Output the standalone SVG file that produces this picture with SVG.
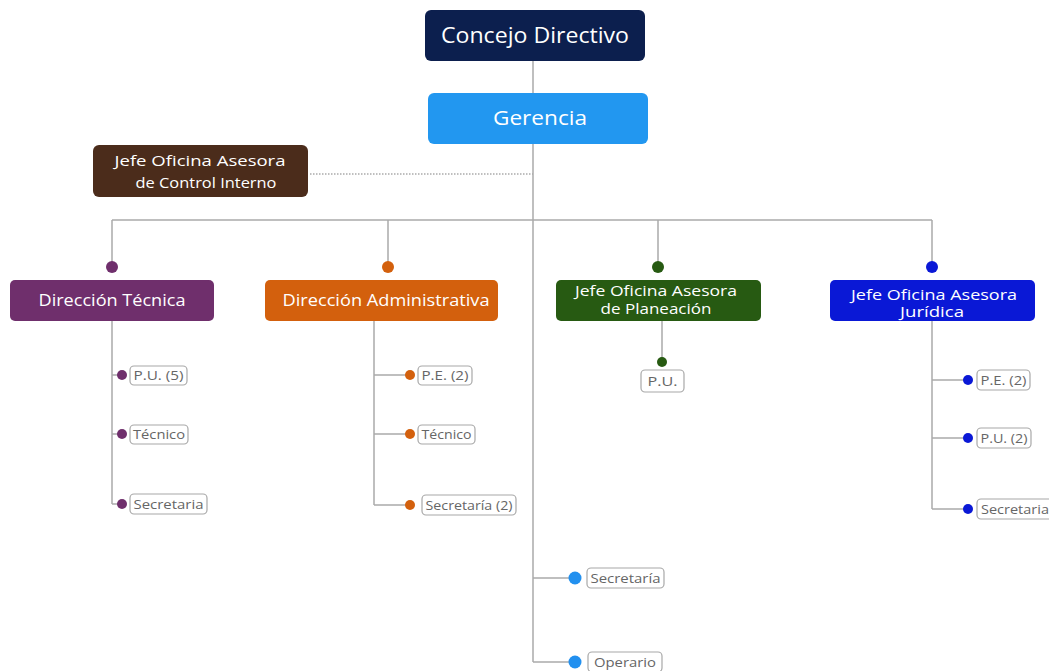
<svg xmlns="http://www.w3.org/2000/svg" width="1049" height="671" viewBox="0 0 1049 671">
<style>
text{font-family:"Open Sans","Liberation Sans",sans-serif;}
.t{fill:#fff;text-anchor:middle;}
.l{fill:#666;font-size:13px;text-anchor:middle;}
.lb{fill:#fff;stroke:#a8a8a8;stroke-width:1.2;}
.c{fill:none;stroke:#aaa;stroke-width:1.5;}
</style>
<rect width="1049" height="671" fill="#fff"/>
<g id="connectors">
<path class="c" d="M533 61V93M533 144V662M112 220H932M112 220V262M388 220V262M658 220V262M932 220V262"/>
<path d="M310 174H533" fill="none" stroke="#aaa" stroke-width="1.5" stroke-dasharray="1.5 1.5"/>
<path class="c" d="M112 321V504M112 375H122M112 434H122M112 504H122"/>
<path class="c" d="M374 321V505M374 375H410M374 434H410M374 505H410"/>
<path class="c" d="M662 321V362"/>
<path class="c" d="M932 321V509M932 380H968M932 438H968M932 509H968"/>
<path class="c" d="M533 578H575M533 662H575"/>
<circle cx="112" cy="267" r="6" fill="#6f2f6c"/>
<circle cx="388" cy="267" r="6" fill="#d3600d"/>
<circle cx="658" cy="267" r="6" fill="#275a12"/>
<circle cx="932" cy="267" r="6" fill="#0a18d6"/>
<circle cx="122" cy="375" r="5" fill="#6f2f6c"/>
<circle cx="122" cy="434" r="5" fill="#6f2f6c"/>
<circle cx="122" cy="504" r="5" fill="#6f2f6c"/>
<circle cx="410" cy="375" r="5" fill="#d3600d"/>
<circle cx="410" cy="434" r="5" fill="#d3600d"/>
<circle cx="410" cy="505" r="5" fill="#d3600d"/>
<circle cx="662" cy="362" r="5" fill="#275a12"/>
<circle cx="968" cy="380" r="5" fill="#0a18d6"/>
<circle cx="968" cy="438" r="5" fill="#0a18d6"/>
<circle cx="968" cy="509" r="5" fill="#0a18d6"/>
<circle cx="575" cy="578" r="6.5" fill="#2290ef"/>
<circle cx="575" cy="662" r="6.5" fill="#2290ef"/>
</g>
<g id="concejo"><rect x="425" y="10" width="220" height="51" rx="6" fill="#0c1f4e"/><text class="t" x="535" y="43" font-size="22" textLength="188" lengthAdjust="spacingAndGlyphs">Concejo Directivo</text></g>
<g id="gerencia"><rect x="428" y="93" width="220" height="51" rx="6" fill="#2297f0"/><text class="t" x="540" y="125" font-size="20" textLength="94" lengthAdjust="spacingAndGlyphs">Gerencia</text></g>
<g id="control"><rect x="93" y="145" width="215" height="52" rx="6" fill="#4b2c1b"/><text class="t" x="200" y="166" font-size="15" textLength="171" lengthAdjust="spacingAndGlyphs">Jefe Oficina Asesora</text><text class="t" x="206" y="188" font-size="15" textLength="141" lengthAdjust="spacingAndGlyphs">de Control Interno</text></g>
<g id="dtecnica"><rect x="10" y="280" width="204" height="41" rx="5" fill="#6f2f6c"/><text class="t" x="112" y="306" font-size="16" textLength="147" lengthAdjust="spacingAndGlyphs">Dirección Técnica</text></g>
<g id="dadmin"><rect x="265" y="280" width="233" height="41" rx="5" fill="#d3600d"/><text class="t" x="386" y="306" font-size="16" textLength="207" lengthAdjust="spacingAndGlyphs">Dirección Administrativa</text></g>
<g id="planeacion"><rect x="556" y="280" width="205" height="41" rx="5" fill="#275a12"/><text class="t" x="656" y="296" font-size="14" textLength="162" lengthAdjust="spacingAndGlyphs">Jefe Oficina Asesora</text><text class="t" x="656" y="314" font-size="14" textLength="111" lengthAdjust="spacingAndGlyphs">de Planeación</text></g>
<g id="juridica"><rect x="830" y="280" width="205" height="41" rx="5" fill="#0a18d6"/><text class="t" x="934" y="300" font-size="14" textLength="166" lengthAdjust="spacingAndGlyphs">Jefe Oficina Asesora</text><text class="t" x="932" y="317" font-size="14" textLength="64" lengthAdjust="spacingAndGlyphs">Jurídica</text></g>
<g id="dt-pu"><rect class="lb" x="130" y="366" width="57" height="19" rx="4"/><text class="l" x="158.5" y="380" textLength="50" lengthAdjust="spacingAndGlyphs">P.U. (5)</text></g>
<g id="dt-tec"><rect class="lb" x="130" y="425" width="58" height="19" rx="4"/><text class="l" x="159" y="439" textLength="52" lengthAdjust="spacingAndGlyphs">Técnico</text></g>
<g id="dt-sec"><rect class="lb" x="130" y="494" width="77" height="20" rx="4"/><text class="l" x="168.5" y="509" textLength="70" lengthAdjust="spacingAndGlyphs">Secretaria</text></g>
<g id="da-pe"><rect class="lb" x="418" y="366" width="54" height="19" rx="4" stroke="#e8c9a8"/><text class="l" x="445" y="380" textLength="47" lengthAdjust="spacingAndGlyphs">P.E. (2)</text></g>
<g id="da-tec"><rect class="lb" x="418" y="425" width="57" height="19" rx="4" stroke="#e8c9a8"/><text class="l" x="446.5" y="439" textLength="50" lengthAdjust="spacingAndGlyphs">Técnico</text></g>
<g id="da-sec"><rect class="lb" x="422" y="495" width="94" height="20" rx="4" stroke="#e8c9a8"/><text class="l" x="469" y="510" textLength="87" lengthAdjust="spacingAndGlyphs">Secretaría (2)</text></g>
<g id="pl-pu"><rect class="lb" x="641" y="370" width="43" height="22" rx="4"/><text class="l" x="662.5" y="386" textLength="30" lengthAdjust="spacingAndGlyphs">P.U.</text></g>
<g id="ju-pe"><rect class="lb" x="977" y="370" width="53" height="20" rx="4"/><text class="l" x="1003.5" y="385" textLength="46" lengthAdjust="spacingAndGlyphs">P.E. (2)</text></g>
<g id="ju-pu"><rect class="lb" x="977" y="428" width="54" height="20" rx="4"/><text class="l" x="1004" y="443" textLength="47" lengthAdjust="spacingAndGlyphs">P.U. (2)</text></g>
<g id="ju-sec"><rect class="lb" x="977" y="499" width="76" height="20" rx="4"/><text class="l" x="1015" y="514" textLength="68" lengthAdjust="spacingAndGlyphs">Secretaria</text></g>
<g id="g-sec"><rect class="lb" x="587" y="568" width="77" height="20" rx="4"/><text class="l" x="625.5" y="583" textLength="70" lengthAdjust="spacingAndGlyphs">Secretaría</text></g>
<g id="g-op"><rect class="lb" x="588" y="652" width="74" height="20" rx="4"/><text class="l" x="625" y="667" textLength="62" lengthAdjust="spacingAndGlyphs">Operario</text></g>
</svg>
